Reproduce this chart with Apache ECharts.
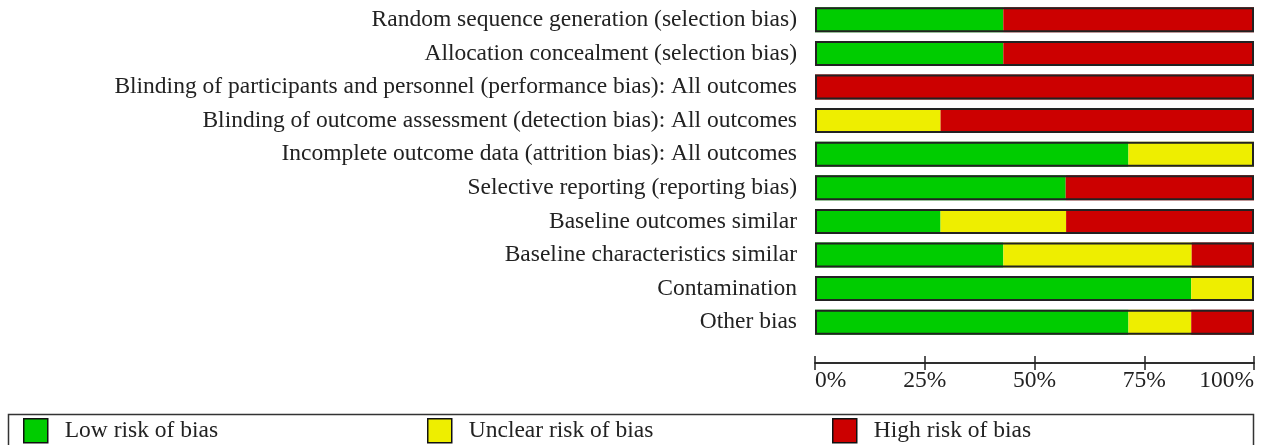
<!DOCTYPE html>
<html><head><meta charset="utf-8">
<script src="https://cdn.jsdelivr.net/npm/echarts@6/dist/echarts.min.js"></script>
<style>html,body{margin:0;padding:0;background:#fff}#c{width:1261px;height:445px}</style>
</head><body><div id="c"></div>
<script>
const categories = [
  "Random sequence generation (selection bias)",
  "Allocation concealment (selection bias)",
  "Blinding of participants and personnel (performance bias): All outcomes",
  "Blinding of outcome assessment (detection bias): All outcomes",
  "Incomplete outcome data (attrition bias): All outcomes",
  "Selective reporting (reporting bias)",
  "Baseline outcomes similar",
  "Baseline characteristics similar",
  "Contamination",
  "Other bias"
];
const lowRisk     = [42.9, 42.9, 0,    0,    71.4, 57.1, 28.6, 42.9, 85.7, 71.4];
const unclearRisk = [0,    0,    0,    28.6, 28.6, 0,    28.6, 42.9, 14.3, 14.3];
const highRisk    = [57.1, 57.1, 100,  71.4, 0,    42.9, 42.8, 14.2, 0,    14.3];
const fullBar     = [100, 100, 100, 100, 100, 100, 100, 100, 100, 100];
const tickLabels  = ["0%", "25%", "50%", "75%", "100%"];
const legendNames = ["Low risk of bias", "Unclear risk of bias", "High risk of bias"];

const FONT = "Liberation Serif";
const FS = 23.5;
const colors = ["#00cc00", "#eeee00", "#cc0000"];
const chart = echarts.init(document.getElementById('c'), null, {renderer: 'canvas'});
const xBase = {
  type: 'value', min: 0, max: 100, interval: 25, position: 'bottom', offset: 24,
  splitLine: {show: false},
  axisLine: {show: true, lineStyle: {color: '#222', width: 1.5}}
};
const legendCommon = {
  top: 413, itemWidth: 24, itemHeight: 24, icon: 'rect',
  textStyle: {fontFamily: FONT, fontSize: FS, color: '#222', padding: [0, 0, 0, 12]},
  itemStyle: {borderColor: '#111', borderWidth: 1.5},
  selectedMode: false
};
chart.setOption({
  animation: false,
  grid: {left: 815, right: 7, top: 3, bottom: 106, containLabel: false},
  xAxis: [
    Object.assign({}, xBase, {
      axisTick: {show: true, inside: false, length: 7, lineStyle: {color: '#222', width: 1.5}},
      axisLabel: {
        fontFamily: FONT, fontSize: FS, color: '#222', margin: 6,
        alignMinLabel: 'left', alignMaxLabel: 'right',
        formatter: function (v) { return tickLabels[Math.round(v / 25)]; }
      }
    }),
    Object.assign({}, xBase, {
      axisTick: {show: true, inside: true, length: 7, lineStyle: {color: '#222', width: 1.5}},
      axisLabel: {show: false}
    })
  ],
  yAxis: {
    type: 'category', data: categories, inverse: true,
    axisLine: {show: false}, axisTick: {show: false},
    axisLabel: {fontFamily: FONT, fontSize: FS, color: '#222', margin: 18}
  },
  legend: [
    Object.assign({}, legendCommon, {left: 18, data: [legendNames[0]]}),
    Object.assign({}, legendCommon, {left: 422, data: [legendNames[1]]}),
    Object.assign({}, legendCommon, {left: 827, data: [legendNames[2]]})
  ],
  graphic: [{
    type: 'rect', shape: {x: 8.5, y: 414.5, width: 1245, height: 60},
    style: {fill: 'none', stroke: '#333', lineWidth: 1.5}, z: -1
  }],
  series: [
    {name: legendNames[0], type: 'bar', stack: 'r', data: lowRisk, barWidth: 25, itemStyle: {color: colors[0]}},
    {name: legendNames[1], type: 'bar', stack: 'r', data: unclearRisk, barWidth: 25, itemStyle: {color: colors[1]}},
    {name: legendNames[2], type: 'bar', stack: 'r', data: highRisk, barWidth: 25, itemStyle: {color: colors[2]}},
    {name: 'outline', type: 'bar', data: fullBar, barWidth: 25, barGap: '-100%', silent: true, z: 5,
     itemStyle: {color: 'rgba(0,0,0,0)', borderColor: '#222', borderWidth: 2}}
  ]
});
</script></body></html>
